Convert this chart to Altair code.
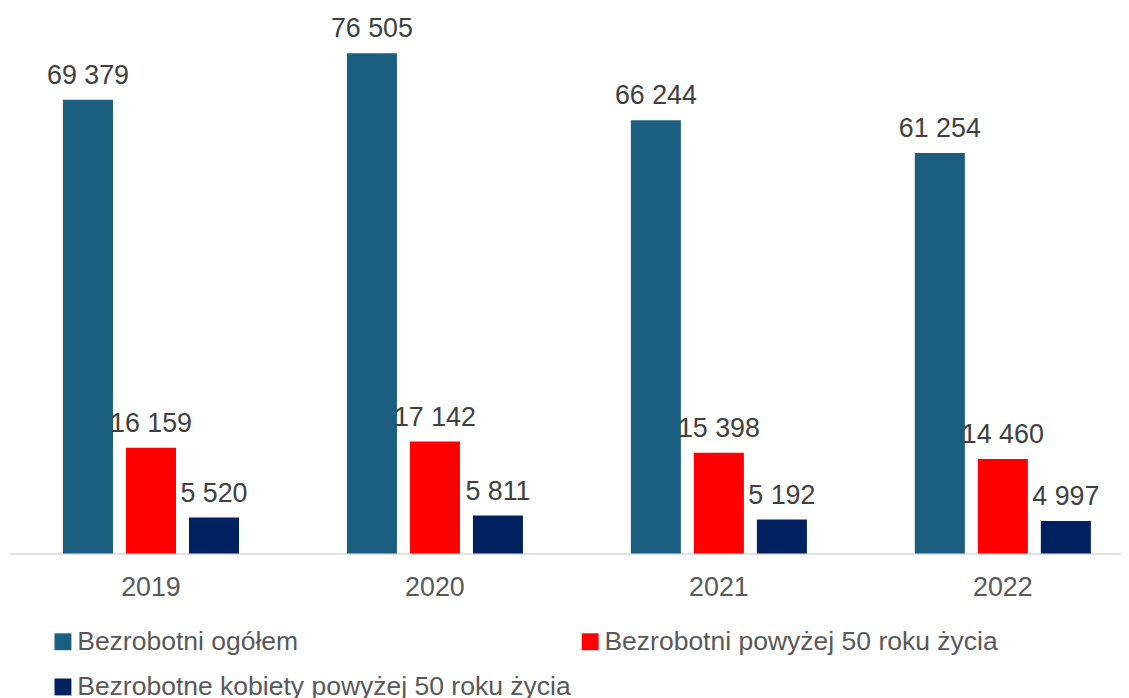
import altair as alt
import pandas as pd

years = ["2019", "2020", "2021", "2022"]
series = ["Bezrobotni ogółem", "Bezrobotni powyżej 50 roku życia", "Bezrobotne kobiety powyżej 50 roku życia"]
ogolem = [69379, 76505, 66244, 61254]
powyzej50 = [16159, 17142, 15398, 14460]
kobiety50 = [5520, 5811, 5192, 4997]
colors = ["#1b5e80", "#ff0000", "#002060"]

rows = []
for i, y in enumerate(years):
    for s, vals in zip(series, [ogolem, powyzej50, kobiety50]):
        rows.append({"year": y, "series": s, "value": vals[i]})
df = pd.DataFrame(rows)

x = alt.X("year:N", title=None, sort=years,
          scale=alt.Scale(paddingInner=0.38, paddingOuter=0.19, range=[0, 1144]),
          axis=alt.Axis(labelAngle=0, labelFontSize=27, labelColor="#595959", labelFont="Liberation Sans",
                        labelPadding=21, ticks=False, domainColor="#d9d9d9", domainWidth=1.5, grid=False))
xo = alt.XOffset("series:N", sort=series, scale=alt.Scale(paddingInner=0.206, paddingOuter=0))
y = alt.Y("value:Q", scale=alt.Scale(domain=[0, 80000], nice=False), axis=None)

bars = alt.Chart(df).mark_bar().encode(
    x=x, xOffset=xo, y=y,
    color=alt.Color("series:N", sort=series,
                    scale=alt.Scale(domain=series, range=colors),
                    legend=alt.Legend(title=None, orient="none", legendX=41, legendY=602, columns=2,
                                      direction="horizontal",
                                      symbolType="square", symbolSize=289, symbolStrokeWidth=0,
                                      labelFontSize=26.7, labelColor="#595959", labelFont="Liberation Sans",
                                      labelOffset=1, columnPadding=6, rowPadding=18, labelLimit=0))
)

labels = alt.Chart(df).transform_calculate(
    lab="replace(format(datum.value, ','), ',', ' ')"
).mark_text(fontSize=27, color="#404040", font="Liberation Sans", baseline="alphabetic", dy=-16).encode(
    x=x, xOffset=xo, y=y, text="lab:N"
)

chart = alt.layer(bars, labels).properties(
    width=1120, height=527,
    autosize=alt.AutoSizeParams(type="none"),
    padding={"left": 1, "top": 20, "right": 0, "bottom": 143}
).configure_view(stroke=None)

chart.save("out.html", embed_options={"renderer": "svg", "actions": False})
